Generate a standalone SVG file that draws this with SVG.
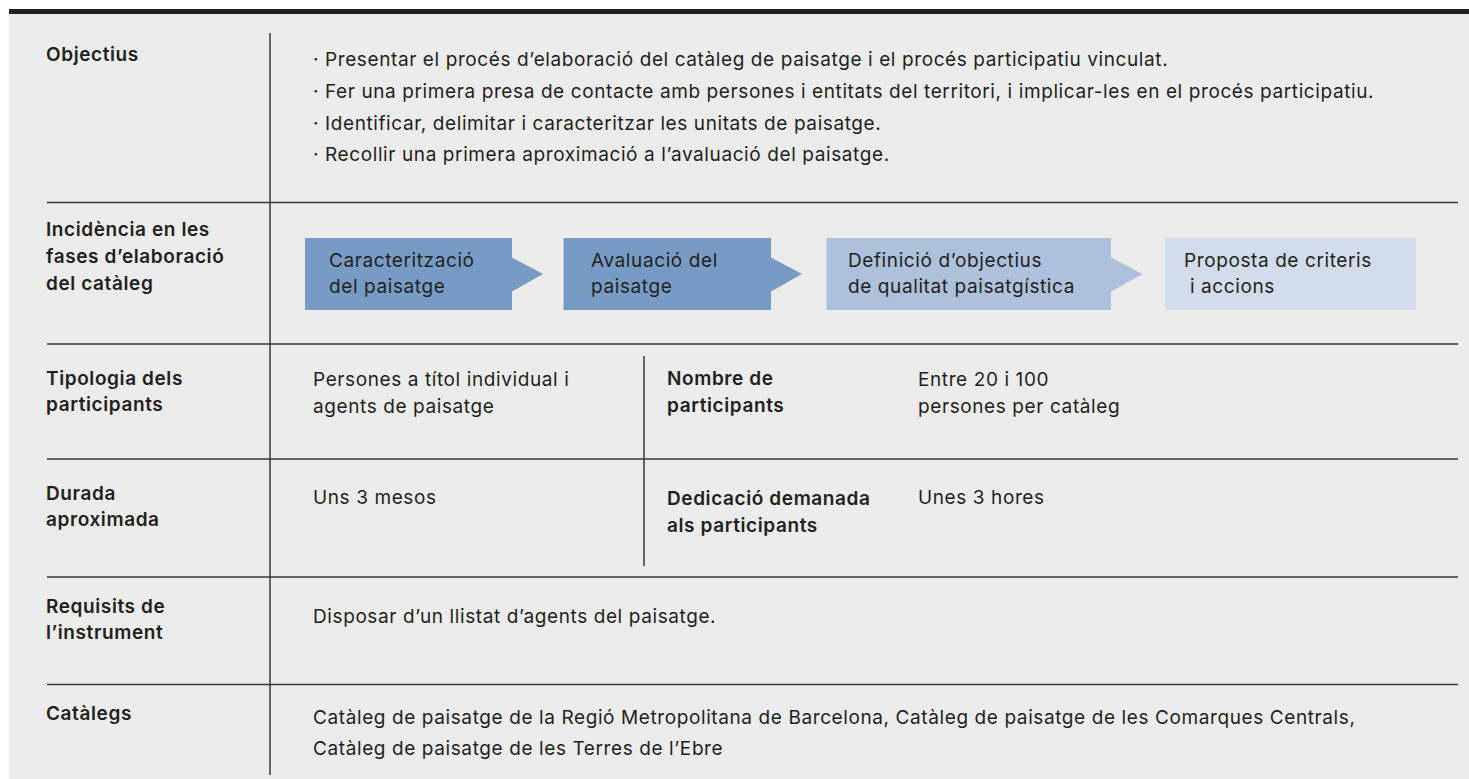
<svg xmlns="http://www.w3.org/2000/svg" width="1469" height="779" viewBox="0 0 1469 779">
<style>
.lbl{font-family:Inter,"Liberation Sans",Arial,sans-serif;font-weight:600;font-size:19px;letter-spacing:0.6px;fill:#231f20}
.txt{font-family:Inter,"Liberation Sans",Arial,sans-serif;font-size:19px;letter-spacing:0.6px;fill:#231f20}
.rule{stroke:#3a3a3a;stroke-width:1.5;fill:none}
.b1{fill:#789bc6}
.b3{fill:#adc0dc}
.b4{fill:#d2dcea}
</style>
<rect x="0" y="0" width="1469" height="779" fill="#ffffff"/>
<rect x="9" y="14" width="1460" height="765" fill="#ebeceb"/>
<rect x="9" y="9" width="1460" height="5" fill="#1f1f1f"/>
<g id="rules">
<line class="rule" x1="270" y1="33" x2="270" y2="775"/>
<line class="rule" x1="47" y1="202.5" x2="1458" y2="202.5"/>
<line class="rule" x1="47" y1="344" x2="1458" y2="344"/>
<line class="rule" x1="47" y1="459" x2="1458" y2="459"/>
<line class="rule" x1="47" y1="577" x2="1458" y2="577"/>
<line class="rule" x1="47" y1="684.5" x2="1458" y2="684.5"/>
<line class="rule" x1="644" y1="356" x2="644" y2="566"/>
</g>
<g id="row-objectius">
<text class="lbl" x="46" y="61">Objectius</text>
<text class="txt" x="313" y="66">· Presentar el procés d’elaboració del catàleg de paisatge i el procés participatiu vinculat.</text>
<text class="txt" x="313" y="98">· Fer una primera presa de contacte amb persones i entitats del territori, i implicar-les en el procés participatiu.</text>
<text class="txt" x="313" y="130">· Identificar, delimitar i caracteritzar les unitats de paisatge.</text>
<text class="txt" x="313" y="161">· Recollir una primera aproximació a l’avaluació del paisatge.</text>
</g>
<g id="row-incidencia">
<text class="lbl" x="46" y="236">Incidència en les</text>
<text class="lbl" x="46" y="263">fases d’elaboració</text>
<text class="lbl" x="46" y="290">del catàleg</text>
</g>
<g id="phase-1">
<polygon class="b1" points="305,238 512,238 512,257.5 543,274 512,291.5 512,310 305,310"/>
<text class="txt" x="329" y="267">Caracterització</text>
<text class="txt" x="329" y="293">del paisatge</text>
</g>
<g id="phase-2">
<polygon class="b1" points="563.5,238 771,238 771,257.5 802,274 771,291.5 771,310 563.5,310"/>
<text class="txt" x="591" y="267">Avaluació del</text>
<text class="txt" x="591" y="293">paisatge</text>
</g>
<g id="phase-3">
<polygon class="b3" points="826.5,238 1111,238 1111,257.5 1142.5,274 1111,291.5 1111,310 826.5,310"/>
<text class="txt" x="848" y="267">Definició d’objectius</text>
<text class="txt" x="848" y="293">de qualitat paisatgística</text>
</g>
<g id="phase-4">
<rect class="b4" x="1165" y="238" width="251" height="72"/>
<text class="txt" x="1184" y="267">Proposta de criteris</text>
<text class="txt" x="1184" y="293" xml:space="preserve"> i accions</text>
</g>
<g id="row-tipologia">
<text class="lbl" x="46" y="385">Tipologia dels</text>
<text class="lbl" x="46" y="411">participants</text>
<text class="txt" x="313" y="386">Persones a títol individual i</text>
<text class="txt" x="313" y="413">agents de paisatge</text>
<text class="lbl" x="667" y="385">Nombre de</text>
<text class="lbl" x="667" y="412">participants</text>
<text class="txt" x="918" y="386">Entre 20 i 100</text>
<text class="txt" x="918" y="413">persones per catàleg</text>
</g>
<g id="row-durada">
<text class="lbl" x="46" y="500">Durada</text>
<text class="lbl" x="46" y="526">aproximada</text>
<text class="txt" x="313" y="504">Uns 3 mesos</text>
<text class="lbl" x="667" y="505">Dedicació demanada</text>
<text class="lbl" x="667" y="532">als participants</text>
<text class="txt" x="918" y="504">Unes 3 hores</text>
</g>
<g id="row-requisits">
<text class="lbl" x="46" y="613">Requisits de</text>
<text class="lbl" x="46" y="639">l’instrument</text>
<text class="txt" x="313" y="623">Disposar d’un llistat d’agents del paisatge.</text>
</g>
<g id="row-catalegs">
<text class="lbl" x="46" y="720">Catàlegs</text>
<text class="txt" x="313" y="724">Catàleg de paisatge de la Regió Metropolitana de Barcelona, Catàleg de paisatge de les Comarques Centrals,</text>
<text class="txt" x="313" y="755">Catàleg de paisatge de les Terres de l’Ebre</text>
</g>
</svg>
